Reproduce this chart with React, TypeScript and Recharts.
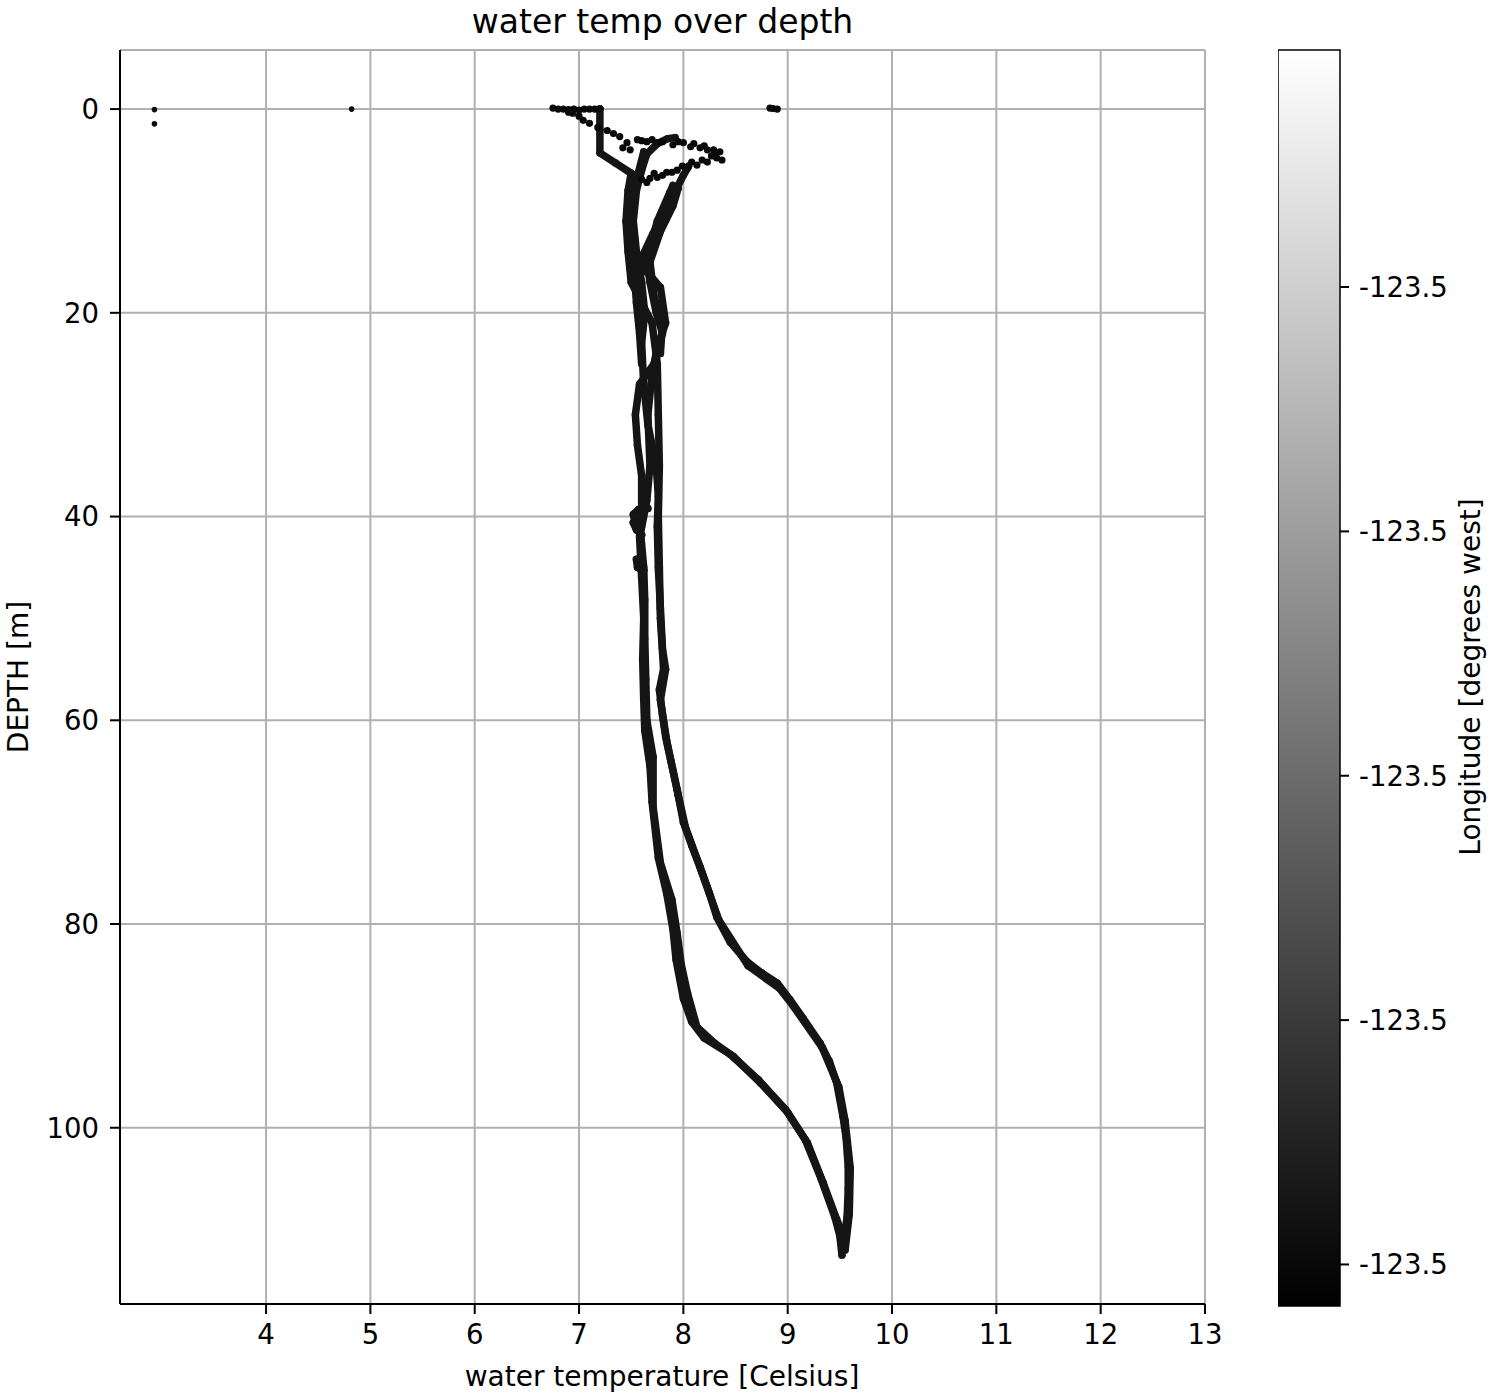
import React from "react";
import {
  ScatterChart, Scatter, XAxis, YAxis, CartesianGrid, ReferenceArea,
} from "recharts";

// water temperature [C] vs depth [m], one array per cast
const CAST_A1: [number, number][] = [
  [7.2, 0], [7.2, 2], [7.2, 4.3], [7.35, 5.3], [7.5, 6.3], [7.47, 8], [7.45, 11], [7.47, 14],
  [7.5, 17], [7.6, 19], [7.7, 21], [7.75, 25], [7.76, 30], [7.77, 35], [7.76, 40], [7.77, 45],
  [7.78, 50], [7.81, 55], [7.77, 57], [7.8, 59.5], [7.83, 61.6], [7.88, 64], [7.94, 66.8],
  [8.0, 70], [8.08, 72.3], [8.16, 74.4], [8.25, 77], [8.32, 79.3], [8.45, 81.8], [8.61, 83.7],
  [8.75, 84.8], [8.9, 85.8], [9.02, 87.4], [9.15, 89.3], [9.31, 91.7], [9.4, 93.5], [9.47, 95.6],
  [9.53, 98.9], [9.56, 101], [9.58, 103.8], [9.58, 106], [9.57, 108.7], [9.53, 111.7],
];

const CAST_A2: [number, number][] = [
  [7.92, 2.8], [7.85, 2.9], [7.75, 3.4], [7.65, 4.4], [7.6, 6], [7.55, 8], [7.52, 11], [7.55, 14],
  [7.6, 17], [7.63, 20], [7.6, 23], [7.62, 27], [7.66, 31], [7.74, 35], [7.76, 38], [7.75, 41],
  [7.76, 45], [7.78, 49], [7.8, 53], [7.83, 55], [7.78, 58], [7.84, 62], [7.95, 67.3], [8.02, 70.5],
  [8.18, 75], [8.34, 79.6], [8.62, 84.1], [8.92, 86.3], [9.05, 88], [9.33, 92.1], [9.49, 96],
  [9.55, 99.3], [9.6, 104], [9.59, 108.5], [9.55, 112],
];

const CAST_B1: [number, number][] = [
  [8.05, 5.6], [8.0, 6.5], [7.94, 7.7], [7.82, 10], [7.71, 12.2], [7.59, 14.8], [7.65, 16],
  [7.78, 17.5], [7.83, 21], [7.75, 23.4], [7.7, 26], [7.66, 30], [7.68, 35], [7.65, 38.4],
  [7.59, 41.6], [7.62, 45], [7.63, 48.2], [7.63, 52], [7.64, 56], [7.65, 60], [7.71, 63.6],
  [7.71, 68.5], [7.78, 74], [7.89, 77.6], [7.94, 80.9], [7.98, 84], [8.04, 86.8], [8.13, 90.1],
  [8.3, 91.7], [8.48, 93], [8.74, 95.6], [9.0, 98.5], [9.19, 101.5], [9.34, 105.4], [9.47, 109],
  [9.52, 110.3],
];

const CAST_B2: [number, number][] = [
  [7.9, 7.5], [7.87, 8.2], [7.75, 11], [7.65, 14.8], [7.68, 17], [7.74, 20], [7.8, 22], [7.72, 25],
  [7.58, 27], [7.54, 30], [7.56, 33], [7.6, 36], [7.6, 39], [7.58, 42], [7.6, 46], [7.62, 50],
  [7.61, 54], [7.62, 58], [7.63, 61], [7.68, 64.5], [7.7, 68], [7.76, 73.5], [7.84, 77], [7.9, 80.5],
  [7.93, 83.5], [8.0, 87.3], [8.08, 89.6], [8.2, 91.2], [8.45, 92.8], [8.72, 95.3], [8.98, 98.2],
  [9.17, 101.2], [9.32, 105], [9.45, 108.7], [9.5, 110.6], [9.52, 112.5],
];

// extra strands in the upper tangle
const CAST_C: [number, number][] = [
  [7.62, 4.2], [7.55, 7], [7.48, 10], [7.5, 13], [7.53, 16], [7.55, 19], [7.58, 22], [7.6, 25],
];
const CAST_D: [number, number][] = [
  [7.95, 7.8], [7.9, 9.5], [7.78, 12], [7.68, 15], [7.72, 18.5], [7.8, 21], [7.78, 24],
];

// short wiggles near 40 m
const HOOK_1: [number, number][] = [[7.66, 39.2], [7.57, 39.3], [7.52, 39.8], [7.53, 40.2]];
const HOOK_2: [number, number][] = [[7.52, 40.6], [7.55, 41.3], [7.6, 41.8]];
const HOOK_3: [number, number][] = [[7.55, 44.2], [7.56, 45], [7.62, 45.3]];

// loose samples near the surface
const SURFACE_POINTS: [number, number][] = [
  [6.75, -0.1], [6.8, 0], [6.85, 0], [6.9, 0.05], [6.95, 0], [7.0, 0.1], [7.05, 0], [7.1, 0],
  [7.15, 0], [7.2, -0.05], [6.9, 0.3], [6.94, 0.4], [7.0, 0.7], [7.04, 1.1], [7.1, 1.4],
  [7.18, 1.8], [7.27, 2.1], [7.33, 2.4], [7.39, 2.7], [7.42, 3.8], [7.46, 3.3], [7.49, 4.0],
  [7.56, 3.0], [7.6, 3.1], [7.65, 3.2], [7.7, 3.0], [7.75, 3.3], [7.8, 3.2], [7.9, 3.5],
  [7.95, 3.2], [8.0, 3.3], [8.07, 3.7], [8.1, 3.4], [8.16, 3.8], [8.2, 3.6], [8.23, 4.0],
  [8.29, 4.0], [8.3, 4.4], [8.35, 4.2], [8.37, 5.0], [8.32, 4.8], [8.27, 4.6], [8.23, 5.2],
  [8.18, 5.0], [8.13, 5.5], [8.08, 5.2], [8.04, 5.8], [7.99, 5.6], [7.94, 6.0], [7.89, 6.2],
  [7.84, 6.2], [7.8, 6.5], [7.75, 6.7], [7.68, 6.8], [7.72, 6.3], [7.6, 6.9], [7.65, 7.2],
  [8.83, -0.1], [8.86, -0.05], [8.9, 0],
];
const STRAY_POINTS: [number, number][] = [[2.93, 0.05], [2.93, 1.45], [4.82, 0]];

const TEMP_TICKS = [4, 5, 6, 7, 8, 9, 10, 11, 12, 13];
const DEPTH_TICKS = [0, 20, 40, 60, 80, 100];
const LON_TICKS = [-123.548, -123.546, -123.544, -123.542, -123.54];
const LON_MIN = -123.54834;
const LON_MAX = -123.53806;

const toPts = (arr: [number, number][]) => arr.map(([t, d]) => ({ t, d }));

const LINE_COLOR = "#151515";
const FONT = '"DejaVu Sans", sans-serif';
const TICK_FONT = 27.5;

const dot = (r: number, fill: string) => (props: any) =>
  <circle cx={props.cx} cy={props.cy} r={r} fill={fill} />;

const castLine = { stroke: LINE_COLOR, strokeWidth: 7.5, strokeLinejoin: "round", strokeLinecap: "round" } as any;

export default function App() {
  const casts = [CAST_A1, CAST_A2, CAST_B1, CAST_B2, CAST_C, CAST_D, HOOK_1, HOOK_2, HOOK_3];
  return (
    <div style={{ position: "absolute", left: 0, top: 0, width: 1500, height: 1400, background: "#fff", fontFamily: FONT, color: "#000" }}>
      <svg width={0} height={0} style={{ position: "absolute" }}>
        <defs>
          <linearGradient id="cbGrad" x1="0" y1="0" x2="0" y2="1">
            <stop offset="0" stopColor="#ffffff" />
            <stop offset="1" stopColor="#000000" />
          </linearGradient>
        </defs>
      </svg>

      <div style={{ position: "absolute", left: 120, width: 1085, top: 2, textAlign: "center", fontSize: 33, lineHeight: "40px" }}>
        water temp over depth
      </div>

      <div style={{ position: "absolute", left: 0, top: 0 }}>
        <ScatterChart width={1500} height={1400} margin={{ top: 50, right: 295, bottom: 36, left: 10 }}>
          <CartesianGrid stroke="#b0b0b0" strokeWidth={2} />
          <XAxis
            type="number" dataKey="t" domain={[2.6, 13]} ticks={TEMP_TICKS} allowDataOverflow
            height={60} tickSize={10} tickMargin={10}
            tick={{ fill: "#000", fontSize: TICK_FONT, fontFamily: FONT }}
            tickLine={{ stroke: "#000", strokeWidth: 2 }}
            axisLine={{ stroke: "#000", strokeWidth: 2 }}
          />
          <XAxis xAxisId="top" orientation="top" type="number" domain={[2.6, 13]} height={0}
            tick={false} tickLine={false} axisLine={{ stroke: "#000", strokeWidth: 2 }} />
          <YAxis
            type="number" dataKey="d" domain={[-5.8, 117.3]} ticks={DEPTH_TICKS} reversed allowDataOverflow
            width={110} tickSize={10} tickMargin={11}
            tick={{ fill: "#000", fontSize: TICK_FONT, fontFamily: FONT }}
            tickLine={{ stroke: "#000", strokeWidth: 2 }}
            axisLine={{ stroke: "#000", strokeWidth: 2 }}
          />
          <YAxis yAxisId="right" orientation="right" type="number" domain={[-5.8, 117.3]} width={0}
            tick={false} tickLine={false} axisLine={{ stroke: "#000", strokeWidth: 2 }} />
          {casts.map((c, i) => (
            <Scatter key={i} data={toPts(c)} line={castLine} shape={dot(3.7, LINE_COLOR)} isAnimationActive={false} />
          ))}
          <Scatter data={toPts(SURFACE_POINTS)} shape={dot(3.6, "#0a0a0a")} isAnimationActive={false} />
          <Scatter data={toPts(STRAY_POINTS)} shape={dot(2.8, "#0a0a0a")} isAnimationActive={false} />
        </ScatterChart>
      </div>

      <div style={{ position: "absolute", left: 1278, top: 0 }}>
        <ScatterChart width={230} height={1400} margin={{ top: 50, right: 68, bottom: 94, left: 0 }}>
          <XAxis type="number" dataKey="x" domain={[0, 1]} hide />
          <YAxis
            type="number" dataKey="y" orientation="right" domain={[LON_MIN, LON_MAX]} ticks={LON_TICKS}
            allowDataOverflow width={100} tickSize={9} tickMargin={10}
            tickFormatter={(v: number) => v.toFixed(1)}
            tick={{ fill: "#000", fontSize: TICK_FONT, fontFamily: FONT, textAnchor: "start" }}
            tickLine={{ stroke: "#000", strokeWidth: 2 }}
            axisLine={false}
          />
          <Scatter data={[{ x: 0, y: LON_MIN }]} shape={() => <g />} isAnimationActive={false} />
          <ReferenceArea x1={0} x2={1} y1={LON_MIN} y2={LON_MAX} fill="url(#cbGrad)" fillOpacity={1}
            stroke="#000" strokeWidth={1.5} ifOverflow="visible" />
        </ScatterChart>
      </div>

      <div style={{ position: "absolute", left: 662, top: 1376, transform: "translate(-50%, -50%)", fontSize: 28, whiteSpace: "nowrap" }}>
        water temperature [Celsius]
      </div>
      <div style={{ position: "absolute", left: 18, top: 677, transform: "translate(-50%, -50%) rotate(-90deg)", fontSize: 28, whiteSpace: "nowrap" }}>
        DEPTH [m]
      </div>
      <div style={{ position: "absolute", left: 1470, top: 677, transform: "translate(-50%, -50%) rotate(-90deg)", fontSize: 28, whiteSpace: "nowrap" }}>
        Longitude [degrees west]
      </div>
    </div>
  );
}
